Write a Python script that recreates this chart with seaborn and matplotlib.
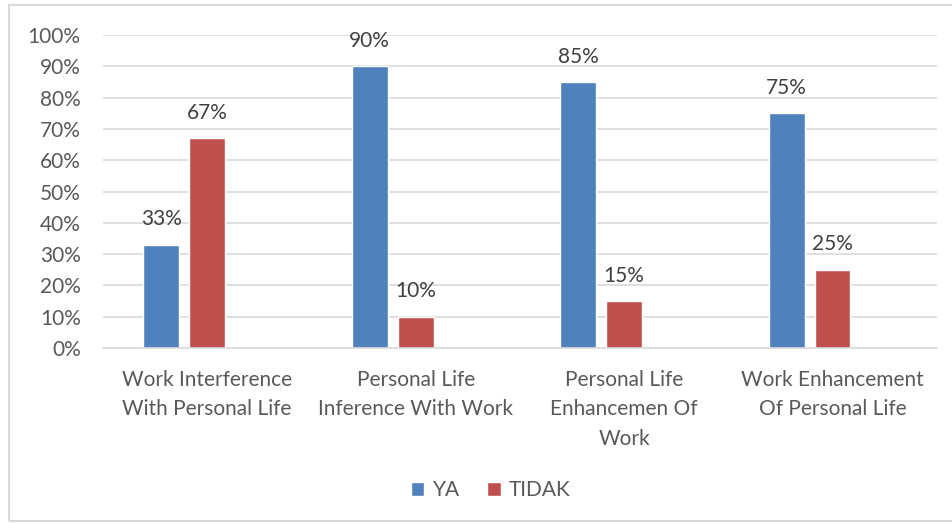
import pandas as pd
import seaborn as sns
import matplotlib.pyplot as plt
from matplotlib.patches import Rectangle, Patch

# Chart data
categories = ['Work Interference\nWith Personal Life',
              'Personal Life\nInference With Work',
              'Personal Life\nEnhancemen Of\nWork',
              'Work Enhancement\nOf Personal Life']
ya = [33, 90, 85, 75]
tidak = [67, 10, 15, 25]
series = ['YA', 'TIDAK']
colors = ['#4F81BD', '#C0504D']

data = pd.DataFrame({
    'category': categories * 2,
    'answer': ['YA'] * 4 + ['TIDAK'] * 4,
    'value': ya + tidak,
})

sns.set_style('white')
plt.rcParams['font.family'] = ['Lato', 'DejaVu Sans']
text_color = '#595959'
grid_color = '#D9D9D9'
fs = 15

fig = plt.figure(figsize=(9.53, 5.24), dpi=100)
ax = fig.add_axes([0.108, 0.336, 0.875, 0.597])

# third (empty) hue slot keeps the Excel-like left offset of the bars
sns.barplot(data=data, x='category', y='value', hue='answer',
            hue_order=series + [' '], palette=colors + ['white'],
            width=0.66, gap=0.22, ax=ax, legend=False, saturation=1,
            order=categories)

for container, vals in zip(ax.containers, [ya, tidak]):
    ax.bar_label(container, labels=[f'{v}%' for v in vals], padding=11,
                 fontsize=fs, color='#404040')

ax.set_ylim(0, 100)
ax.set_xlim(-0.5, 3.5)
ax.set_yticks(range(0, 101, 10))
ax.set_yticklabels([f'{v}%' for v in range(0, 101, 10)])
ax.yaxis.grid(True, color=grid_color, linewidth=1.2)
ax.set_axisbelow(True)
ax.set_xlabel('')
ax.set_ylabel('')

for s in ['top', 'right', 'left']:
    ax.spines[s].set_visible(False)
ax.spines['bottom'].set_color(grid_color)
ax.spines['bottom'].set_linewidth(1.2)

ax.tick_params(axis='y', length=0, pad=16, labelsize=fs, labelcolor=text_color)
ax.tick_params(axis='x', which='major', length=0, pad=16, labelsize=fs,
               labelcolor=text_color)
ax.set_xticks([-0.5, 0.5, 1.5, 2.5, 3.5], minor=True)
ax.tick_params(axis='x', which='minor', length=6, color=grid_color, width=1.2)
for lbl in ax.get_xticklabels():
    lbl.set_linespacing(1.58)

handles = [Patch(facecolor=c, label=s) for c, s in zip(colors, series)]
fig.legend(handles=handles, loc='center', bbox_to_anchor=(0.515, 0.064), ncol=2,
           frameon=False, fontsize=fs, labelcolor=text_color,
           handlelength=0.65, handleheight=0.65, handletextpad=0.4,
           columnspacing=1.3)

fig.patches.append(Rectangle((0.009, 0.006), 1.2, 0.984, transform=fig.transFigure,
                             fill=False, edgecolor=grid_color, linewidth=1.5))

fig.savefig('out.png', dpi=100)
